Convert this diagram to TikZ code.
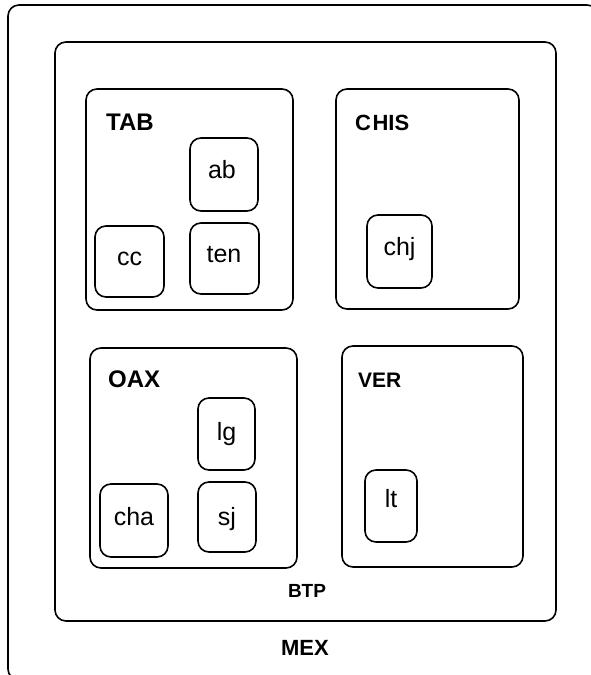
\documentclass[tikz,border=0pt]{standalone}
\usepackage{fontspec}
\setmainfont{Liberation Sans}
\begin{document}
\begin{tikzpicture}[x=1pt,y=-1pt,
  box/.style={draw=black, line width=1.6pt, rounded corners=11pt, inner sep=0pt, outer sep=0pt, minimum width=#1},
  big/.style={font=\fontsize{24}{24}\selectfont\bfseries, anchor=base west, inner sep=0pt},
  small/.style={font=\fontsize{25}{25}\selectfont, anchor=base, inner sep=0pt}]
\useasboundingbox (0,0) rectangle (591,675);
\clip (0,0) rectangle (591,675);
% outer boxes
\node[box=590pt, minimum height=675pt] (mex) at (303,342.5) {};
\node[box=501pt, minimum height=579pt] (btp) at (305.5,331.5) {};
\node[box=207pt, minimum height=221pt] (tab) at (189.5,199.5) {};
\node[box=183pt, minimum height=220pt] (chis) at (427.5,199) {};
\node[box=207pt, minimum height=220pt] (oax) at (193.5,458) {};
\node[box=181pt, minimum height=221pt] (ver) at (432.5,456.5) {};
% inner boxes
\node[box=68pt, minimum height=73pt] (ab) at (224,174.5) {};
\node[box=69pt, minimum height=71pt] (cc) at (129.5,261.5) {};
\node[box=69pt, minimum height=71pt] (ten) at (224.5,258.5) {};
\node[box=65pt, minimum height=73pt] (chj) at (399.5,251.5) {};
\node[box=57pt, minimum height=72pt] (lg) at (226.5,434) {};
\node[box=68pt, minimum height=73pt] (cha) at (134,520.5) {};
\node[box=58pt, minimum height=70pt] (sj) at (227,517) {};
\node[box=52pt, minimum height=72pt] (lt) at (391,506) {};
% labels
\node[big] (tabl) at (106,130) {TAB};
\node[big, font=\fontsize{22}{22}\selectfont\bfseries] (chisl) at (355,130) {C\kern1.5pt HIS};
\node[big] (oaxl) at (108,387) {OAX};
\node[big, font=\fontsize{21}{21}\selectfont\bfseries] (verl) at (358,387) {VER};
\node[font=\fontsize{19}{19}\selectfont\bfseries, anchor=base, inner sep=0pt] (btpl) at (307,597) {BTP};
\node[font=\fontsize{22}{22}\selectfont\bfseries, anchor=base, inner sep=0pt] (mexl) at (305,655) {MEX};
\node[small] (abl) at (222,178) {ab};
\node[small] (ccl) at (129.5,265) {cc};
\node[small] (tenl) at (224,262) {ten};
\node[small] (chjl) at (399.5,255) {chj};
\node[small] (lgl) at (226.5,440) {lg};
\node[small] (chal) at (134,525) {cha};
\node[small] (sjl) at (227,525) {sj};
\node[small] (ltl) at (391,507) {lt};
\end{tikzpicture}
\end{document}
